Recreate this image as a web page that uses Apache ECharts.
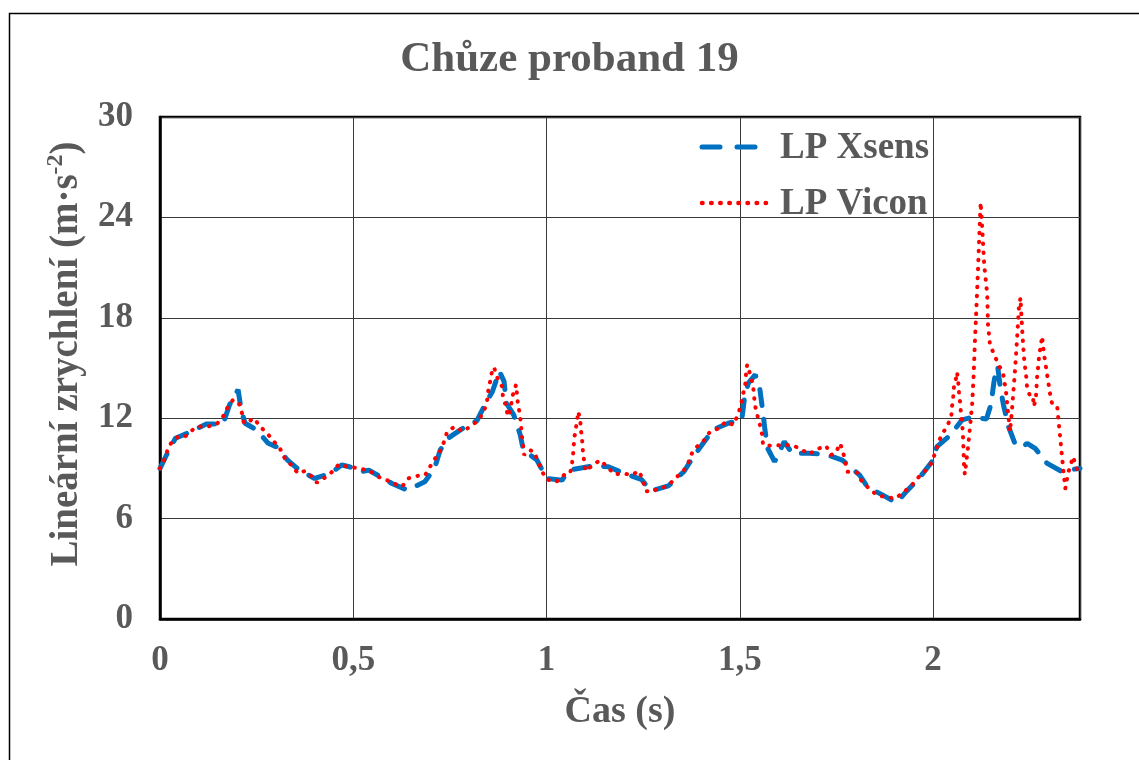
<!DOCTYPE html>
<html>
<head>
<meta charset="utf-8">
<script src="https://cdn.jsdelivr.net/npm/echarts@6/dist/echarts.min.js"></script>
<style>
html,body{margin:0;padding:0;background:#fff;}
#chart{width:1139px;height:760px;}
</style>
</head>
<body>
<div id="chart"></div>
<script>
// ---- data (time in s, acceleration in m·s^-2) ----
const xsensTime = [0, 0.021, 0.04, 0.07, 0.12, 0.163, 0.18, 0.202, 0.21, 0.22, 0.25, 0.28, 0.30, 0.33, 0.36, 0.40, 0.44, 0.47, 0.49, 0.52, 0.54, 0.60, 0.64, 0.685, 0.71, 0.725, 0.745, 0.78, 0.82, 0.845, 0.86, 0.878, 0.89, 0.896, 0.915, 0.932, 0.94, 0.975, 1.0, 1.04, 1.06, 1.12, 1.16, 1.20, 1.245, 1.27, 1.315, 1.355, 1.38, 1.405, 1.43, 1.47, 1.505, 1.512, 1.522, 1.54, 1.552, 1.56, 1.565, 1.572, 1.59, 1.615, 1.635, 1.68, 1.72, 1.765, 1.81, 1.83, 1.87, 1.905, 1.93, 1.96, 1.997, 2.01, 2.045, 2.075, 2.10, 2.138, 2.15, 2.157, 2.163, 2.167, 2.174, 2.182, 2.195, 2.213, 2.233, 2.243, 2.264, 2.295, 2.33, 2.38];
const xsensValues = [9.0, 10.0, 10.8, 11.1, 11.65, 11.65, 12.8, 13.7, 12.5, 11.7, 11.3, 10.5, 10.3, 9.5, 8.9, 8.4, 8.7, 9.2, 9.1, 8.8, 8.9, 8.1, 7.7, 8.2, 9.0, 10.1, 10.8, 11.35, 11.85, 13.0, 13.6, 14.8, 14.2, 12.9, 12.2, 11.0, 10.1, 9.5, 8.4, 8.3, 8.9, 9.15, 9.1, 8.7, 8.35, 7.65, 7.95, 8.8, 9.7, 10.5, 11.3, 11.7, 11.9, 13.2, 14.1, 14.6, 13.7, 12.3, 11.3, 10.2, 9.4, 10.6, 9.9, 9.9, 9.85, 9.5, 8.6, 7.9, 7.4, 6.95, 7.6, 8.3, 9.4, 10.3, 11.0, 11.9, 12.05, 11.95, 12.85, 14.1, 14.9, 15.1, 13.8, 12.8, 11.5, 10.4, 10.3, 10.5, 10.2, 9.3, 8.85, 9.0];

const viconTime = [0, 0.013, 0.021, 0.031, 0.047, 0.065, 0.078, 0.098, 0.124, 0.147, 0.163, 0.176, 0.189, 0.204, 0.212, 0.217, 0.230, 0.243, 0.259, 0.277, 0.295, 0.310, 0.323, 0.342, 0.357, 0.375, 0.393, 0.406, 0.430, 0.448, 0.463, 0.486, 0.517, 0.543, 0.564, 0.587, 0.605, 0.626, 0.642, 0.665, 0.686, 0.696, 0.709, 0.724, 0.735, 0.743, 0.763, 0.784, 0.805, 0.823, 0.838, 0.846, 0.849, 0.854, 0.859, 0.864, 0.872, 0.885, 0.887, 0.895, 0.900, 0.905, 0.913, 0.921, 0.926, 0.931, 0.934, 0.936, 0.939, 0.942, 0.955, 0.968, 0.978, 0.988, 0.999, 1.025, 1.045, 1.061, 1.066, 1.069, 1.071, 1.074, 1.079, 1.082, 1.087, 1.089, 1.092, 1.094, 1.097, 1.100, 1.118, 1.138, 1.157, 1.175, 1.198, 1.221, 1.239, 1.250, 1.257, 1.270, 1.291, 1.314, 1.332, 1.353, 1.366, 1.376, 1.389, 1.405, 1.423, 1.446, 1.464, 1.483, 1.495, 1.503, 1.508, 1.514, 1.516, 1.519, 1.527, 1.534, 1.539, 1.545, 1.552, 1.558, 1.560, 1.583, 1.612, 1.635, 1.658, 1.679, 1.700, 1.723, 1.736, 1.749, 1.759, 1.767, 1.772, 1.778, 1.803, 1.816, 1.832, 1.855, 1.876, 1.902, 1.922, 1.943, 1.959, 1.979, 1.995, 2.005, 2.013, 2.023, 2.036, 2.047, 2.049, 2.052, 2.054, 2.060, 2.062, 2.065, 2.067, 2.070, 2.072, 2.075, 2.077, 2.078, 2.079, 2.080, 2.082, 2.091, 2.096, 2.101, 2.105, 2.108, 2.112, 2.116, 2.120, 2.123, 2.127, 2.132, 2.140, 2.142, 2.147, 2.158, 2.168, 2.181, 2.189, 2.194, 2.199, 2.204, 2.212, 2.217, 2.222, 2.226, 2.230, 2.235, 2.241, 2.243, 2.251, 2.258, 2.261, 2.266, 2.269, 2.274, 2.282, 2.287, 2.295, 2.303, 2.308, 2.321, 2.326, 2.331, 2.336, 2.342, 2.349, 2.357, 2.362, 2.370, 2.378];
const viconValues = [9.0, 9.6, 10.2, 10.6, 10.9, 10.9, 11.2, 11.5, 11.5, 11.65, 12.1, 12.7, 13.1, 12.9, 12.3, 11.7, 11.8, 12.0, 11.5, 11.1, 10.6, 10.2, 9.6, 9.15, 8.7, 8.85, 8.5, 8.15, 8.5, 8.85, 9.25, 9.1, 9.0, 8.85, 8.5, 8.3, 8.1, 7.9, 8.4, 8.55, 8.6, 9.0, 9.5, 10.0, 10.6, 11.2, 11.5, 11.2, 11.55, 11.85, 12.4, 13.0, 13.6, 14.2, 14.8, 15.05, 14.45, 13.9, 13.3, 12.7, 12.1, 12.4, 13.4, 14.0, 12.85, 12.25, 11.6, 11.0, 10.4, 9.8, 10.1, 10.0, 9.4, 8.85, 8.35, 8.2, 8.6, 8.7, 9.3, 9.95, 10.6, 11.2, 11.8, 12.4, 11.9, 11.3, 10.7, 10.05, 9.45, 8.85, 9.15, 9.5, 9.1, 8.65, 8.7, 8.6, 8.85, 8.25, 7.65, 7.6, 7.8, 7.95, 8.4, 8.8, 9.3, 9.9, 10.3, 10.6, 11.2, 11.4, 11.8, 11.6, 12.2, 12.8, 13.4, 14.0, 14.65, 15.2, 14.6, 14.0, 12.8, 12.2, 11.6, 11.0, 10.4, 10.35, 10.4, 10.4, 10.15, 9.85, 10.15, 10.35, 9.8, 9.95, 10.5, 10.0, 9.45, 8.8, 8.75, 8.2, 7.85, 7.4, 7.3, 7.2, 7.55, 7.95, 8.4, 8.85, 9.3, 9.9, 10.5, 11.05, 11.5, 12.1, 12.7, 13.3, 13.9, 14.45, 14.75, 14.15, 13.55, 12.9, 12.3, 11.7, 11.1, 10.5, 9.9, 9.2, 8.65, 10.4, 11.6, 12.85, 14.65, 16.5, 18.6, 20.8, 23.2, 24.9, 23.4, 21.2, 19.4, 17.6, 16.4, 15.8, 15.25, 14.7, 13.5, 12.3, 11.2, 12.5, 14.9, 16.7, 18.6, 19.2, 17.45, 15.65, 14.45, 13.85, 13.3, 13.3, 12.7, 13.3, 14.45, 15.65, 16.9, 15.8, 14.6, 13.4, 12.85, 12.7, 11.5, 10.3, 9.1, 7.8, 8.7, 9.3, 9.7, 9.1, 8.5];

const xTickLabels = {0: '0', 0.5: '0,5', 1: '1', 1.5: '1,5', 2: '2'};
const seriesNames = ['LP Xsens', 'LP Vicon'];

const xsensData = xsensTime.map((t, i) => [t, xsensValues[i]]);
const viconData = viconTime.map((t, i) => [t, viconValues[i]]);

const FONT = '"Liberation Serif", "Times New Roman", serif';
const GREY = '#595959';
const BLUE = '#0070C0';
const RED = '#FF0000';
const LEG_FONT = 'bold 37px "Liberation Serif", "Times New Roman", serif';

const chart = echarts.init(document.getElementById('chart'));
chart.setOption({
  animation: false,
  backgroundColor: '#fff',
  title: {
    text: 'Chůze proband 19',
    left: 'center',
    top: 33,
    textStyle: { fontFamily: FONT, fontSize: 43, fontWeight: 'bold', color: GREY }
  },
  graphic: [
    {
      type: 'rect', left: 7, top: 11, silent: true,
      shape: { width: 1300, height: 900 },
      style: { fill: 'none', stroke: '#000', lineWidth: 1.5 }
    },
    // legend (drawn in the style of the source chart)
    {
      type: 'line', silent: true, z: 10,
      shape: { x1: 702, y1: 147, x2: 766, y2: 147 },
      style: { stroke: BLUE, lineWidth: 5, lineDash: [18, 17], lineCap: 'round' }
    },
    {
      type: 'text', silent: true, z: 10, left: 780, top: 130,
      style: { text: seriesNames[0], font: LEG_FONT, fill: GREY }
    },
    {
      type: 'line', silent: true, z: 10,
      shape: { x1: 702, y1: 203, x2: 766, y2: 203 },
      style: { stroke: RED, lineWidth: 4.5, lineDash: [0.5, 8.6], lineCap: 'round' }
    },
    {
      type: 'text', silent: true, z: 10, left: 780, top: 186,
      style: { text: seriesNames[1], font: LEG_FONT, fill: GREY }
    }
  ],
  legend: { show: false, data: seriesNames },
  grid: {
    left: 160, top: 117, width: 920, height: 502,
    show: true, borderColor: '#000', borderWidth: 2.5, backgroundColor: 'transparent'
  },
  xAxis: {
    type: 'value',
    min: 0, max: 2.38, interval: 0.5,
    name: 'Čas (s)',
    nameLocation: 'middle',
    nameGap: 74,
    nameTextStyle: { fontFamily: FONT, fontSize: 38, fontWeight: 'bold', color: GREY },
    axisLine: { show: true, lineStyle: { color: '#000', width: 2.5 } },
    axisTick: { show: false },
    axisLabel: {
      margin: 24,
      fontFamily: FONT, fontSize: 35, fontWeight: 'bold', color: GREY,
      showMaxLabel: false,
      formatter: v => (xTickLabels[v] !== undefined ? xTickLabels[v] : '')
    },
    splitLine: { show: true, lineStyle: { color: '#3a3a3a', width: 1 } }
  },
  yAxis: {
    type: 'value',
    min: 0, max: 30, interval: 6,
    name: '{p| }{n|Lineární zrychlení (m·s}{s|-2}{n|)}',
    nameLocation: 'middle',
    nameGap: 74,
    nameTextStyle: {
      fontFamily: FONT, fontSize: 39, fontWeight: 'bold', color: GREY,
      rich: {
        p: { width: 28, fontSize: 10, lineHeight: 42 },
        n: { fontFamily: FONT, fontSize: 39, fontWeight: 'bold', color: GREY, lineHeight: 42, verticalAlign: 'bottom' },
        s: { fontFamily: FONT, fontSize: 24, fontWeight: 'bold', color: GREY, lineHeight: 42, verticalAlign: 'top', padding: [0, 0, 16, 0] }
      }
    },
    axisLine: { show: true, lineStyle: { color: '#000', width: 2.5 } },
    axisTick: { show: false },
    axisLabel: { margin: 27, fontFamily: FONT, fontSize: 35, fontWeight: 'bold', color: GREY },
    splitLine: { show: true, lineStyle: { color: '#3a3a3a', width: 1 } }
  },
  series: [
    {
      name: seriesNames[0],
      type: 'line',
      data: xsensData,
      showSymbol: false,
      symbol: 'none',
      lineStyle: { color: BLUE, width: 5, type: [16, 14], cap: 'round' },
      itemStyle: { color: BLUE },
      z: 3
    },
    {
      name: seriesNames[1],
      type: 'line',
      data: viconData,
      showSymbol: false,
      symbol: 'none',
      lineStyle: { color: RED, width: 4, type: [0.5, 8.5], cap: 'round' },
      itemStyle: { color: RED },
      z: 4
    }
  ]
});
</script>
</body>
</html>
